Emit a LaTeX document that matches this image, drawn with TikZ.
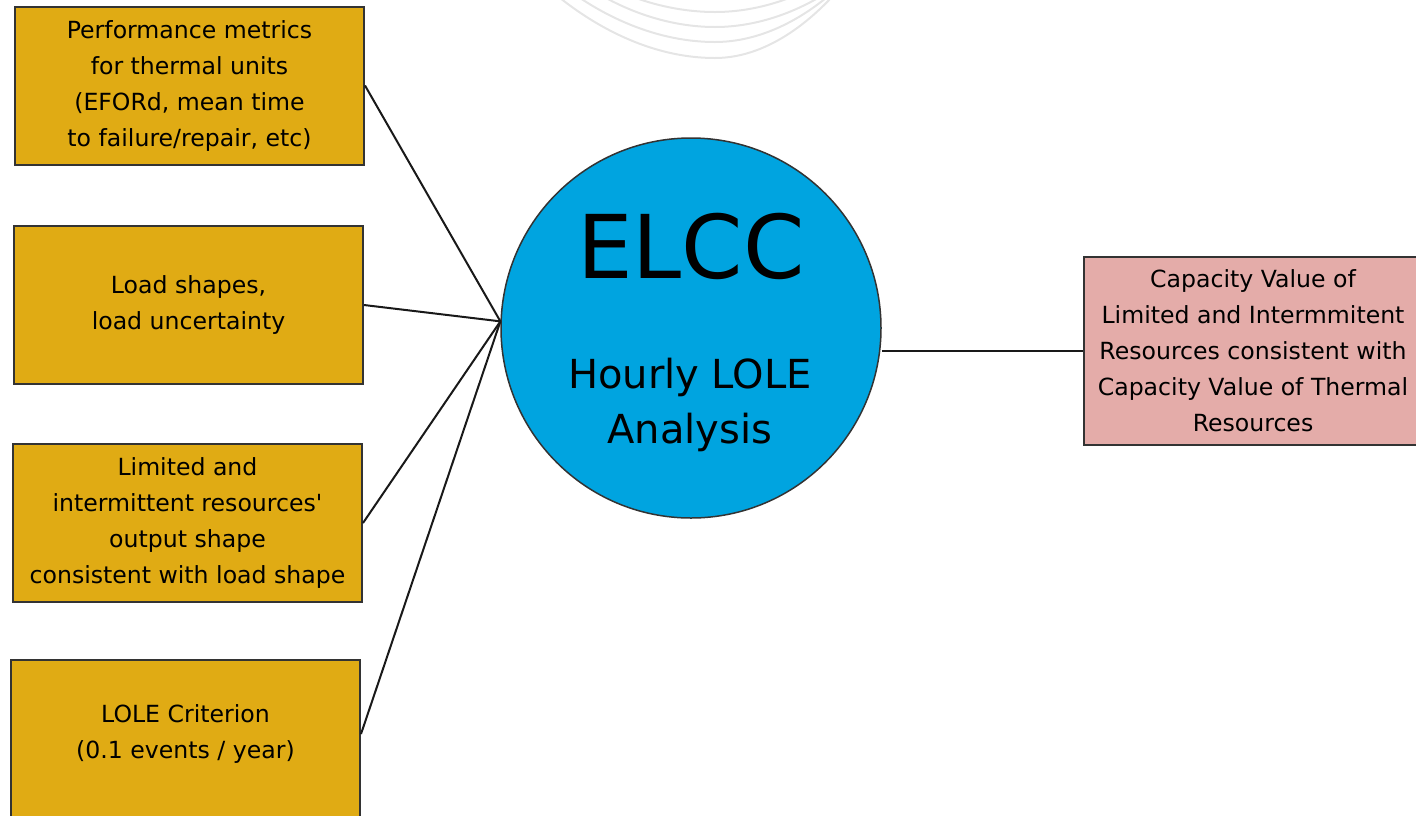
\documentclass[tikz,border=0pt]{standalone}
\usepackage{fontspec}
\newfontfamily\boxfont{DejaVu Sans}
\definecolor{inputgold}{RGB}{224,171,20}
\definecolor{elccblue}{RGB}{0,164,224}
\definecolor{resultpink}{RGB}{228,172,169}

\tikzstyle{inbox} = [rectangle,draw=black!80,line width=2pt,fill=inputgold,minimum width=349pt,minimum height=158pt,inner sep=0pt,align=center,font=\boxfont\fontsize{23.6}{36}\selectfont]
\tikzstyle{outbox} = [inbox,fill=resultpink,minimum width=338pt,minimum height=188pt]
\tikzstyle{hub} = [circle,draw=black!80,line width=1.5pt,fill=elccblue,minimum size=380pt,inner sep=0pt]
\tikzstyle{link} = [line width=2pt,black!90]
\tikzstyle{swirl} = [line width=2pt,black!10]

\begin{document}
\begin{tikzpicture}[x=1pt,y=-1pt]
	\useasboundingbox (0,0) rectangle (1416,815);
	\clip (0,0) rectangle (1416,815);
	% faint arcs at the top
	\draw[swirl] (636,-2) parabola bend (715,12) (789,-2);
	\draw[swirl] (606,-2) parabola bend (715,27) (818,-2);
	\draw[swirl] (580,-2) parabola bend (715,42) (826,-2);
	\draw[swirl] (560,-2) parabola bend (715,58) (831,-2);
	\node[inbox] (perf) at (189.5,85.5) {Performance metrics\\for thermal units\\(EFORd, mean time\\to failure/repair, etc)};
	\node[inbox] (load) at (188.5,305) {Load shapes,\\load uncertainty};
	\node[inbox] (shape) at (187.5,523) {Limited and\\intermittent resources'\\output shape\\consistent with load shape};
	\node[inbox,minimum height=180pt,anchor=north] (crit) at (185.5,659) {};
	\node[align=center,font=\boxfont\fontsize{23.6}{36}\selectfont] (crittext) at (185.5,734) {LOLE Criterion\\(0.1 events / year)};
	\node[hub] (elcc) at (691,328) {};
	\node[anchor=base,font=\boxfont\fontsize{88}{100}\selectfont] (elcctitle) at (691,278) {ELCC};
	\node[align=center,font=\boxfont\fontsize{40}{55}\selectfont] (elccsub) at (690,405) {Hourly LOLE\\Analysis};
	\node[outbox] (capval) at (1253,351) {Capacity Value of\\Limited and Intermmitent\\Resources consistent with\\Capacity Value of Thermal\\Resources};
	\coordinate (hubpt) at (elcc.178);
	\draw[link] (perf.east) -- (hubpt);
	\draw[link] (load.east) -- (hubpt);
	\draw[link] (shape.east) -- (hubpt);
	\draw[link] (crittext -| crit.east) -- (hubpt);
	\draw[link] (elcc.east |- capval.west) -- (capval.west);
\end{tikzpicture}
\end{document}
